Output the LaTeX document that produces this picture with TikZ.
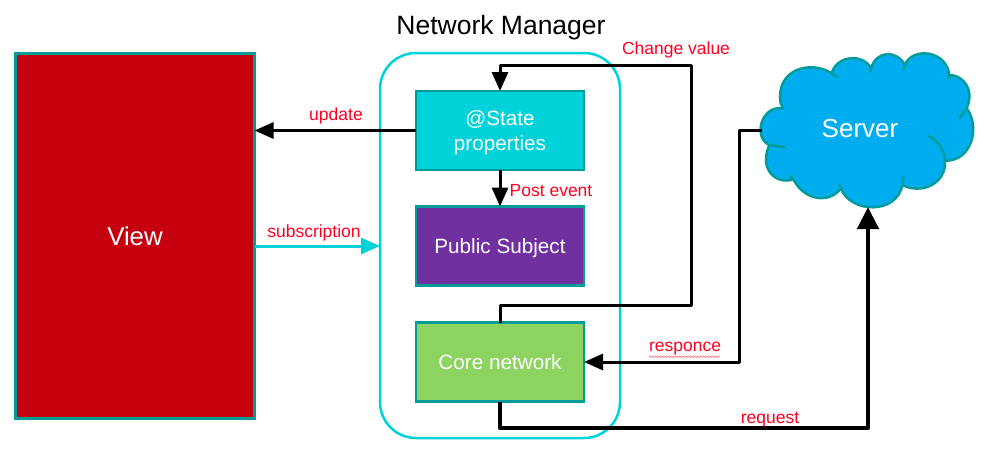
\documentclass[tikz,border=0pt]{standalone}
\usepackage{xcolor}
\usepackage{fontspec}
\usepackage{tikz}
\usetikzlibrary{arrows.meta,decorations.pathmorphing}
\setmainfont{Liberation Sans}
\definecolor{borderteal}{RGB}{0, 155, 155}
\definecolor{viewred}{RGB}{197, 0, 15}
\definecolor{statecyan}{RGB}{0, 210, 218}
\definecolor{subjectpurple}{RGB}{112, 48, 160}
\definecolor{coregreen}{RGB}{141, 211, 95}
\definecolor{serverblue}{RGB}{0, 174, 239}
\definecolor{labelred}{RGB}{255, 0, 34}
\definecolor{squigglered}{RGB}{245, 130, 130}
\tikzset{
    block/.style={draw=borderteal, line width=2.5pt, inner sep=0pt, outer sep=0pt, text=white, align=center, font=\fontsize{20.7}{24.5}\selectfont},
    oneline/.style={text height=19pt, text depth=4pt},
    flowlabel/.style={text=labelred, inner sep=0pt, font=\fontsize{17.5}{20}\selectfont},
    flow/.style={draw=black, line width=3pt, -{Triangle[length=19pt, width=16pt]}},
    heavyflow/.style={draw=black, line width=4.5pt, -{Triangle[length=22pt, width=21pt]}},
}

\begin{document}
\begin{tikzpicture}[x=1pt, y=-1pt]
    \useasboundingbox (0,0) rectangle (987,451);

    \node[draw=statecyan, line width=2.5pt, rounded corners=36pt, minimum width=240pt, minimum height=385pt, inner sep=0pt, outer sep=0pt] (manager) at (500,245.5) {};
    \node[font=\fontsize{26.5}{30}\selectfont, inner sep=0pt] (managertitle) at (501,27.5) {Network Manager};

    \node[block, fill=viewred, minimum width=239pt, minimum height=365pt, font=\fontsize{25.8}{30}\selectfont] (view) at (135,236) {View};
    \node[block, fill=statecyan, minimum width=168pt, minimum height=79pt] (stateprops) at (500,130.5) {\rule{0pt}{19pt}@State\\properties};
    \node[block, oneline, fill=subjectpurple, minimum width=168pt, minimum height=79pt] (subject) at (500,246) {Public Subject};
    \node[block, oneline, fill=coregreen, minimum width=168pt, minimum height=79pt] (corenet) at (500,362) {Core network};

    \begin{scope}[shift={(740,40)}, x=0.3333pt, y=-0.3333pt]
        \draw[draw=borderteal, line width=2.5pt, fill=serverblue, line join=round]
            (130,205) .. controls (60,195) and (40,295) .. (88,315)
            .. controls (55,390) and (110,435) .. (160,418)
            .. controls (195,485) and (270,490) .. (303,445)
            .. controls (330,520) and (470,525) .. (487,435)
            .. controls (545,465) and (620,430) .. (615,362)
            .. controls (695,365) and (722,260) .. (680,205)
            .. controls (705,150) and (670,105) .. (628,105)
            .. controls (620,30) and (515,20) .. (495,75)
            .. controls (470,30) and (410,30) .. (393,85)
            .. controls (370,40) and (290,45) .. (275,100)
            .. controls (215,60) and (105,85) .. (122,190)
            -- cycle;
        \draw[draw=borderteal, line width=2.5pt, line cap=round]
            (88,315) -- (135,322)
            (160,418) -- (148,408)
            (303,445) -- (297,436)
            (487,435) -- (490,412)
            (615,362) .. controls (615,330) and (590,300) .. (567,288)
            (680,205) -- (658,235)
            (628,105) -- (630,116)
            (495,75) -- (490,88)
            (393,85) -- (390,95)
            (275,100) -- (292,112);
    \end{scope}
    \node[text=white, inner sep=0pt, font=\fontsize{26}{30}\selectfont] (server) at (860,128.5) {Server};

    \coordinate (cloudleft) at (762,130);
    \coordinate (responceknee) at (739,130);
    \coordinate (changelow) at (691,305);
    \coordinate (changetop) at (691,65);
    \coordinate (requestknee) at (868,428);
    \coordinate (cloudbottom) at (868,207);

    \draw[flow] (stateprops.west) -- (stateprops.west -| view.east);
    \draw[draw=statecyan, line width=3pt, -{Triangle[length=19pt, width=16pt]}] (subject.west -| view.east) -- (subject.west -| manager.west);
    \draw[flow] (stateprops.south) -- (subject.north);
    \draw[flow, line join=round] (corenet.north) |- (changelow) -- (changetop) -| (stateprops.north);
    \draw[flow, line join=round] (cloudleft) -- (responceknee) |- (corenet.east);
    \draw[heavyflow, line join=round] (corenet.south) |- (requestknee) -- (cloudbottom);

    \node[flowlabel] (updatelabel) at (336,116) {update};
    \node[flowlabel] (subscriptionlabel) at (314,233) {subscription};
    \node[flowlabel] (postlabel) at (551,191) {Post event};
    \node[flowlabel] (changelabel) at (676,50) {Change value};
    \node[flowlabel] (responcelabel) at (685,349) {responce};
    \node[flowlabel] (requestlabel) at (770,420) {request};
    \draw[squigglered, line width=0.7pt, decorate, decoration={snake, amplitude=0.8pt, segment length=3pt}] (responcelabel.south west) ++(0,1) -- ++(71,0);
\end{tikzpicture}
\end{document}
